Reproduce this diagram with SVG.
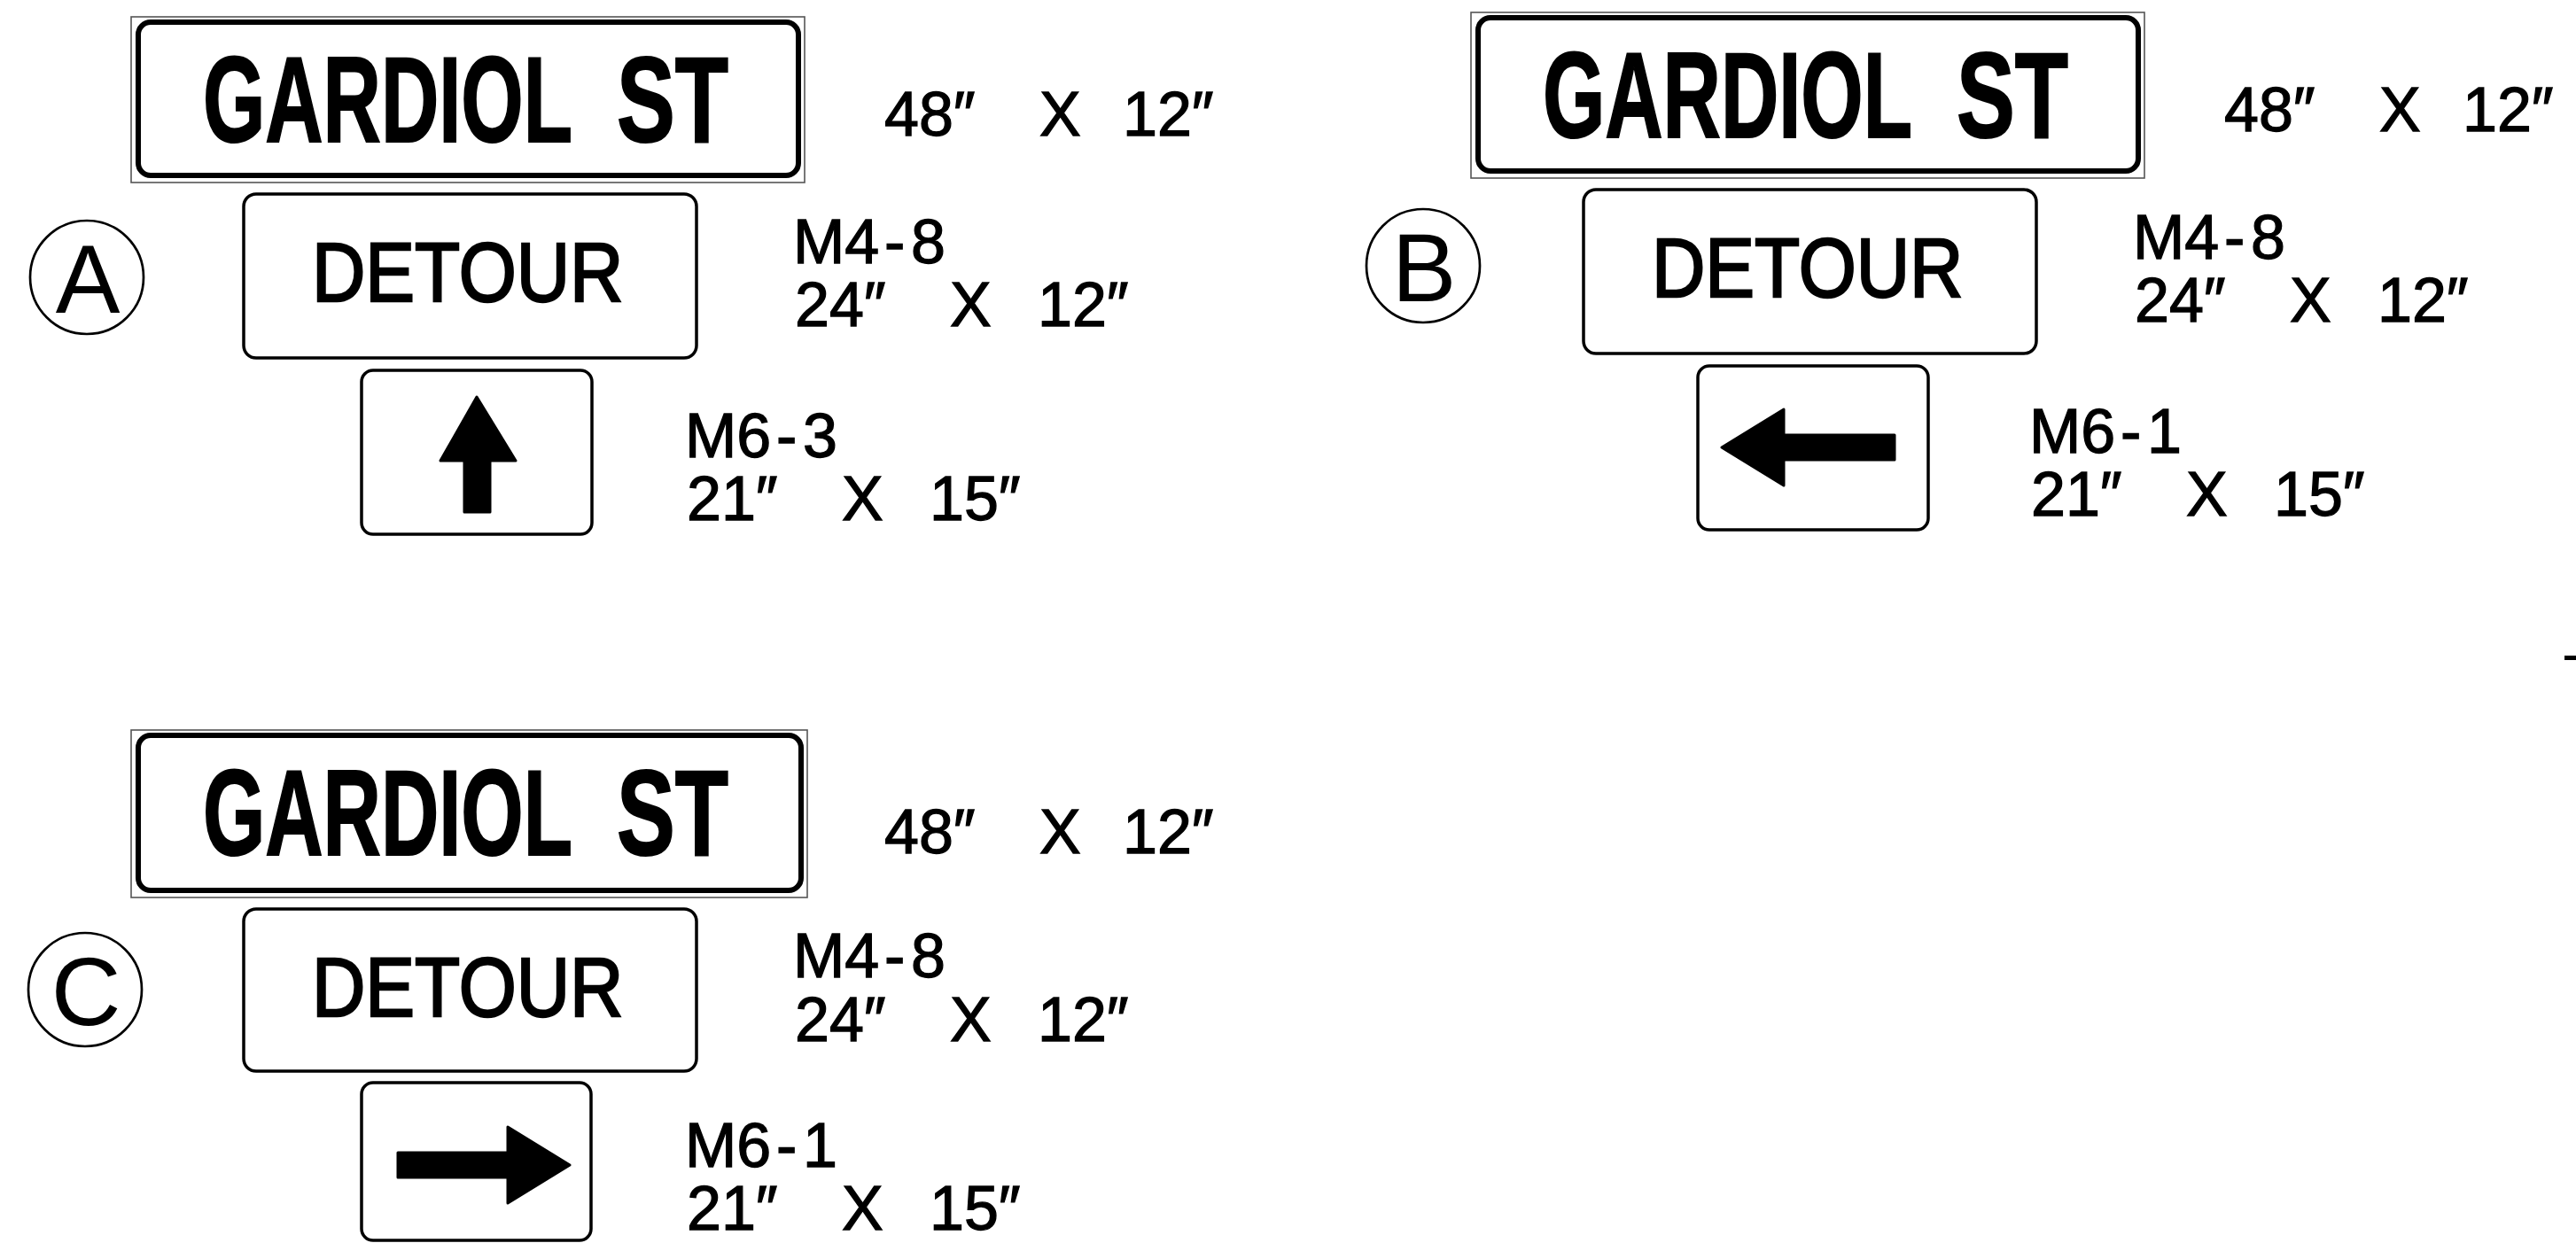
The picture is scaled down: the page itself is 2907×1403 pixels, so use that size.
<svg xmlns="http://www.w3.org/2000/svg" width="2907" height="1403" viewBox="0 0 2907 1403">
<style>
.bg{fill:#fff}
.thin{fill:none;stroke:#555;stroke-width:1.6}
.thick{fill:#fff;stroke:#000;stroke-width:6}
.box{fill:#fff;stroke:#000;stroke-width:3.5}
.circ{fill:#fff;stroke:#000;stroke-width:2.7}
.arrow{fill:#000;stroke:#000;stroke-width:3;stroke-linejoin:round}
.name{font-family:"Liberation Sans",Arial,sans-serif;font-weight:bold;font-size:137px;fill:#000;stroke:#000;stroke-width:2}
.det{font-family:"Liberation Sans",Arial,sans-serif;font-size:95px;fill:#000;stroke:#000;stroke-width:2.5}
.lab{font-family:"Liberation Sans",Arial,sans-serif;font-size:70px;fill:#000;stroke:#000;stroke-width:1.3}
.let{font-family:"Liberation Sans",Arial,sans-serif;font-size:109px;fill:#000;text-anchor:middle}
</style>
<rect class="bg" x="0" y="0" width="2907" height="1403"/>

<g id="panel-A">
  <g id="A-street">
    <rect class="thin" x="148" y="19" width="760" height="187"/>
    <rect class="thick" x="156" y="25" width="745" height="173" rx="14"/>
    <text class="name" transform="translate(229,160) scale(0.66,1)">GARDIOL</text>
    <text class="name" transform="translate(696,160) scale(0.72,1)">ST</text>
  </g>
  <g id="A-street-size">
    <text class="lab" y="153"><tspan x="998">48″</tspan><tspan x="1173">X</tspan><tspan x="1267">12″</tspan></text>
  </g>
  <g id="A-marker">
    <ellipse class="circ" cx="98" cy="313" rx="64" ry="64"/>
    <text class="let" x="99" y="353">A</text>
  </g>
  <g id="A-detour">
    <rect class="box" x="275" y="219" width="511" height="185" rx="14"/>
    <text class="det" transform="translate(352,340) scale(0.88,1)">DETOUR</text>
  </g>
  <g id="A-detour-label">
    <text class="lab" y="297"><tspan x="895">M4</tspan><tspan x="998">-</tspan><tspan x="1028">8</tspan></text>
    <text class="lab" y="368"><tspan x="897">24″</tspan><tspan x="1072">X</tspan><tspan x="1171">12″</tspan></text>
  </g>
  <g id="A-arrow">
    <rect class="box" x="408" y="418" width="260" height="185" rx="13"/>
    <polygon class="arrow" points="538,448 582,520 553,520 553,578 524,578 524,520 497,520"/>
  </g>
  <g id="A-arrow-label">
    <text class="lab" y="516"><tspan x="773">M6</tspan><tspan x="876">-</tspan><tspan x="906">3</tspan></text>
    <text class="lab" y="587"><tspan x="775">21″</tspan><tspan x="950">X</tspan><tspan x="1049">15″</tspan></text>
  </g>
</g>

<g id="panel-B" transform="translate(1512,-5)">
  <g id="B-street">
    <rect class="thin" x="148" y="19" width="760" height="187"/>
    <rect class="thick" x="156" y="25" width="745" height="173" rx="14"/>
    <text class="name" transform="translate(229,160) scale(0.66,1)">GARDIOL</text>
    <text class="name" transform="translate(696,160) scale(0.72,1)">ST</text>
  </g>
  <g id="B-street-size">
    <text class="lab" y="153"><tspan x="998">48″</tspan><tspan x="1173">X</tspan><tspan x="1267">12″</tspan></text>
  </g>
  <g id="B-marker">
    <ellipse class="circ" cx="94" cy="305" rx="64" ry="64"/>
    <text class="let" x="95" y="345">B</text>
  </g>
  <g id="B-detour">
    <rect class="box" x="275" y="219" width="511" height="185" rx="14"/>
    <text class="det" transform="translate(352,340) scale(0.88,1)">DETOUR</text>
  </g>
  <g id="B-detour-label">
    <text class="lab" y="297"><tspan x="895">M4</tspan><tspan x="998">-</tspan><tspan x="1028">8</tspan></text>
    <text class="lab" y="368"><tspan x="897">24″</tspan><tspan x="1072">X</tspan><tspan x="1171">12″</tspan></text>
  </g>
  <g id="B-arrow">
    <rect class="box" x="404" y="418" width="260" height="185" rx="13"/>
    <polygon class="arrow" points="431,510 501,467 501,496 626,496 626,524 501,524 501,553"/>
  </g>
  <g id="B-arrow-label">
    <text class="lab" y="516"><tspan x="778">M6</tspan><tspan x="881">-</tspan><tspan x="911">1</tspan></text>
    <text class="lab" y="587"><tspan x="780">21″</tspan><tspan x="955">X</tspan><tspan x="1054">15″</tspan></text>
  </g>
</g>

<g id="panel-C" transform="translate(0,805)">
  <g id="C-street">
    <rect class="thin" x="148" y="19" width="763" height="189"/>
    <rect class="thick" x="156" y="25" width="748" height="175" rx="14"/>
    <text class="name" transform="translate(229,160) scale(0.66,1)">GARDIOL</text>
    <text class="name" transform="translate(696,160) scale(0.72,1)">ST</text>
  </g>
  <g id="C-street-size">
    <text class="lab" y="158"><tspan x="998">48″</tspan><tspan x="1173">X</tspan><tspan x="1267">12″</tspan></text>
  </g>
  <g id="C-marker">
    <ellipse class="circ" cx="96" cy="312" rx="64" ry="64"/>
    <text class="let" x="97" y="352">C</text>
  </g>
  <g id="C-detour">
    <rect class="box" x="275" y="221" width="511" height="183" rx="14"/>
    <text class="det" transform="translate(352,342) scale(0.88,1)">DETOUR</text>
  </g>
  <g id="C-detour-label">
    <text class="lab" y="298"><tspan x="895">M4</tspan><tspan x="998">-</tspan><tspan x="1028">8</tspan></text>
    <text class="lab" y="370"><tspan x="897">24″</tspan><tspan x="1072">X</tspan><tspan x="1171">12″</tspan></text>
  </g>
  <g id="C-arrow">
    <rect class="box" x="408" y="417" width="259" height="178" rx="13"/>
    <polygon class="arrow" points="643,510 573,467 573,496 449,496 449,524 573,524 573,553"/>
  </g>
  <g id="C-arrow-label">
    <text class="lab" y="512"><tspan x="773">M6</tspan><tspan x="876">-</tspan><tspan x="906">1</tspan></text>
    <text class="lab" y="583"><tspan x="775">21″</tspan><tspan x="950">X</tspan><tspan x="1049">15″</tspan></text>
  </g>
</g>

<g id="connectors"></g>
<rect x="2894" y="740" width="13" height="5" fill="#000"/>
</svg>
